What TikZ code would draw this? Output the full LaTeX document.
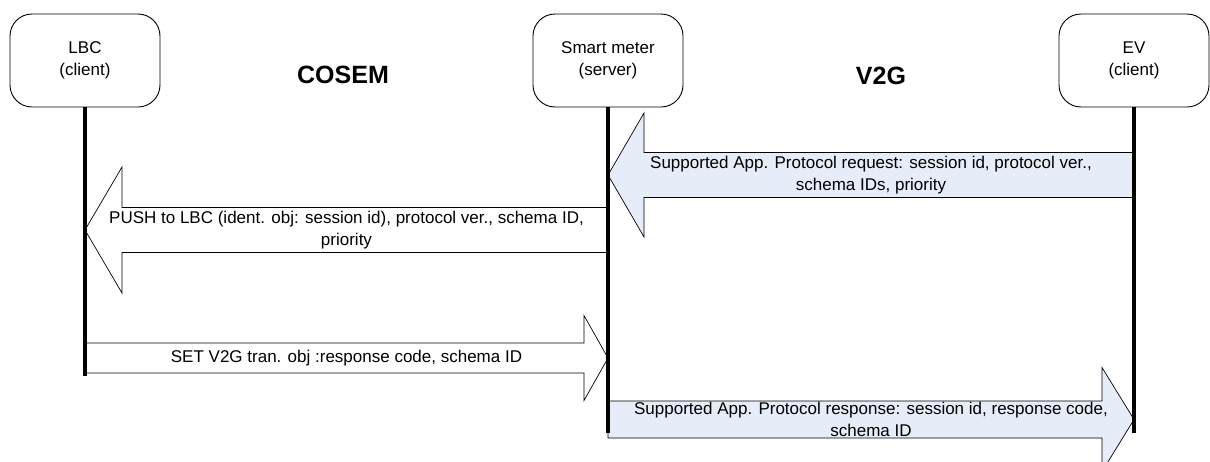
\documentclass[tikz,border=0pt]{standalone}
\usepackage{fontspec}
\setmainfont{Liberation Sans}
\usetikzlibrary{calc}
\definecolor{v2gblue}{RGB}{230,236,248}

\newcommand{\blockarrow}[6]{%
  \draw[#6] let \p1=(#1), \p2=(#2), \n1={ifthenelse(\x2>\x1,1,-1)} in
    (\x1,{\y1+#3}) -- ({\x2-\n1*#5},{\y1+#3}) -- ({\x2-\n1*#5},{\y1+#4}) -- (\p2)
    -- ({\x2-\n1*#5},{\y1-#4}) -- ({\x2-\n1*#5},{\y1-#3}) -- (\x1,{\y1-#3}) -- cycle;
}

\begin{document}
\begin{tikzpicture}[x=1pt,y=-1pt,
  party/.style={draw,line width=0.9pt,rounded corners=22pt,minimum width=150pt,
    minimum height=93pt,align=center,font=\fontsize{17}{22}\selectfont},
  life/.style={line width=3.2pt},
  msg/.style={draw,line width=0.7pt},
  msgtext/.style={align=center,inner sep=0pt,font=\fontsize{17}{22}\selectfont},
  title/.style={font=\fontsize{25}{30}\selectfont\bfseries}]
\useasboundingbox (0,0) rectangle (1210,461);

\node[party] (lbc) at (85,60.5) {LBC\\(client)};
\node[party] (meter) at (608,60.5) {Smart meter\\(server)};
\node[party] (ev) at (1134,60.5) {EV\\(client)};
\node[title] (cosem) at (343,75) {COSEM};
\node[title] (v2g) at (881,76) {V2G};

\coordinate (e1) at (ev |- 0,175);
\coordinate (m1) at (meter |- 0,175);
\coordinate (m2) at (meter |- 0,230);
\coordinate (l2) at (lbc |- 0,230);
\coordinate (l3) at (lbc |- 0,358);
\coordinate (m3) at (meter |- 0,358);
\coordinate (m4) at (meter |- 0,419.5);
\coordinate (e4) at (ev |- 0,419.5);

\blockarrow{e1}{m1}{22.5pt}{62pt}{36pt}{msg,fill=v2gblue}
\node[msgtext] (req) at ($(m1)!.5!(e1)$) {Supported App. Protocol request: session id, protocol ver.,\\schema IDs, priority};
\blockarrow{m2}{l2}{22.5pt}{63pt}{37pt}{msg,fill=white}
\node[msgtext] (push) at ($(l2)!.5!(m2)$) {PUSH to LBC (ident. obj: session id), protocol ver., schema ID,\\priority};
\blockarrow{l3}{m3}{15pt}{42.5pt}{24pt}{msg,fill=white}
\node[msgtext] (set) at ($(l3)!.5!(m3)$) {SET V2G tran. obj :response code, schema ID};
\blockarrow{m4}{e4}{18.5pt}{52pt}{32pt}{msg,fill=v2gblue}
\node[msgtext] (resp) at ($(m4)!.5!(e4)$) {Supported App. Protocol response: session id, response code,\\schema ID};

\coordinate (lbcend) at (lbc |- 0,376);
\coordinate (meterend) at (meter |- 0,433);
\coordinate (evend) at (ev |- 0,433);
\draw[life] (lbc.south) -- (lbcend);
\draw[life] (meter.south) -- (meterend);
\draw[life] (ev.south) -- (evend);
\end{tikzpicture}
\end{document}
